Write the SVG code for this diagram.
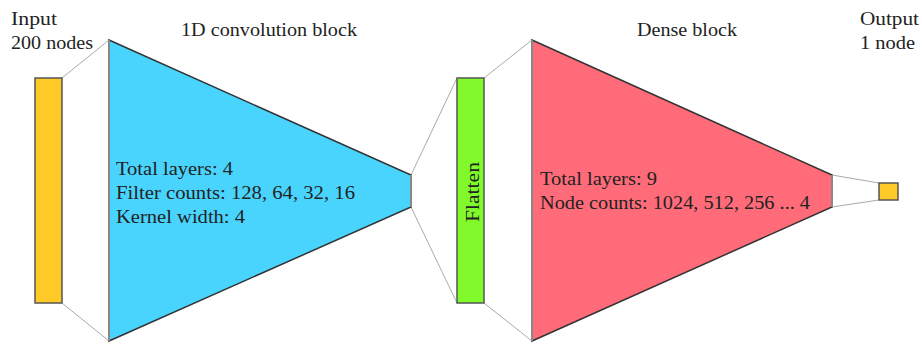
<svg xmlns="http://www.w3.org/2000/svg" width="922" height="344" viewBox="0 0 922 344">
<style>
  text { font-family: "Liberation Serif", "DejaVu Serif", serif; font-size: 18.5px; fill: #222; }
  .conn { stroke: #aaa; stroke-width: 1; fill: none; }
  .box { stroke: #555; stroke-width: 1.5; }
  .tri { stroke: #333; stroke-width: 1.5; stroke-linejoin: miter; }
  .edge { stroke: #888; stroke-width: 2; }
</style>
<rect width="922" height="344" fill="#fff"/>
<g id="connectors">
  <line class="conn" x1="62" y1="78" x2="109" y2="40"/>
  <line class="conn" x1="62" y1="303" x2="109" y2="341"/>
  <line class="conn" x1="411" y1="175" x2="457" y2="78"/>
  <line class="conn" x1="411" y1="207" x2="457" y2="303"/>
  <line class="conn" x1="484" y1="78" x2="532" y2="40"/>
  <line class="conn" x1="484" y1="303" x2="532" y2="341"/>
  <line class="conn" x1="832" y1="175" x2="879" y2="183"/>
  <line class="conn" x1="832" y1="207" x2="879" y2="200"/>
</g>
<g id="input">
  <rect class="box" x="35" y="78" width="27" height="225" fill="#FFC928"/>
  <text x="11" y="25" textLength="46" lengthAdjust="spacingAndGlyphs">Input</text>
  <text x="11" y="49" textLength="82" lengthAdjust="spacingAndGlyphs">200 nodes</text>
</g>
<g id="conv-block">
  <polygon class="tri" points="109,40 411,175 411,207 109,341" fill="#49D4FE"/>
  <line class="edge" x1="109" y1="40" x2="109" y2="341"/>
  <line class="edge" x1="411" y1="175" x2="411" y2="207"/>
  <text x="181" y="36" textLength="176" lengthAdjust="spacingAndGlyphs">1D convolution block</text>
  <text x="116" y="175" textLength="117" lengthAdjust="spacingAndGlyphs">Total layers: 4</text>
  <text x="116" y="199" textLength="239" lengthAdjust="spacingAndGlyphs">Filter counts: 128, 64, 32, 16</text>
  <text x="116" y="223" textLength="129" lengthAdjust="spacingAndGlyphs">Kernel width: 4</text>
</g>
<g id="flatten">
  <rect class="box" x="457" y="78" width="27" height="225" fill="#80FA2A"/>
  <text transform="translate(479,222) rotate(-90)" textLength="60" lengthAdjust="spacingAndGlyphs">Flatten</text>
</g>
<g id="dense-block">
  <polygon class="tri" points="532,40 832,175 832,207 532,341" fill="#FF6B78"/>
  <line class="edge" x1="532" y1="40" x2="532" y2="341"/>
  <line class="edge" x1="832" y1="175" x2="832" y2="207"/>
  <text x="637" y="36" textLength="100" lengthAdjust="spacingAndGlyphs">Dense block</text>
  <text x="540" y="185" textLength="117" lengthAdjust="spacingAndGlyphs">Total layers: 9</text>
  <text x="540" y="209" textLength="270" lengthAdjust="spacingAndGlyphs">Node counts: 1024, 512, 256 ... 4</text>
</g>
<g id="output">
  <rect class="box" x="879" y="183" width="19" height="17" fill="#FFC928"/>
  <text x="860" y="25" textLength="59" lengthAdjust="spacingAndGlyphs">Output</text>
  <text x="860" y="49" textLength="55" lengthAdjust="spacingAndGlyphs">1 node</text>
</g>
</svg>
